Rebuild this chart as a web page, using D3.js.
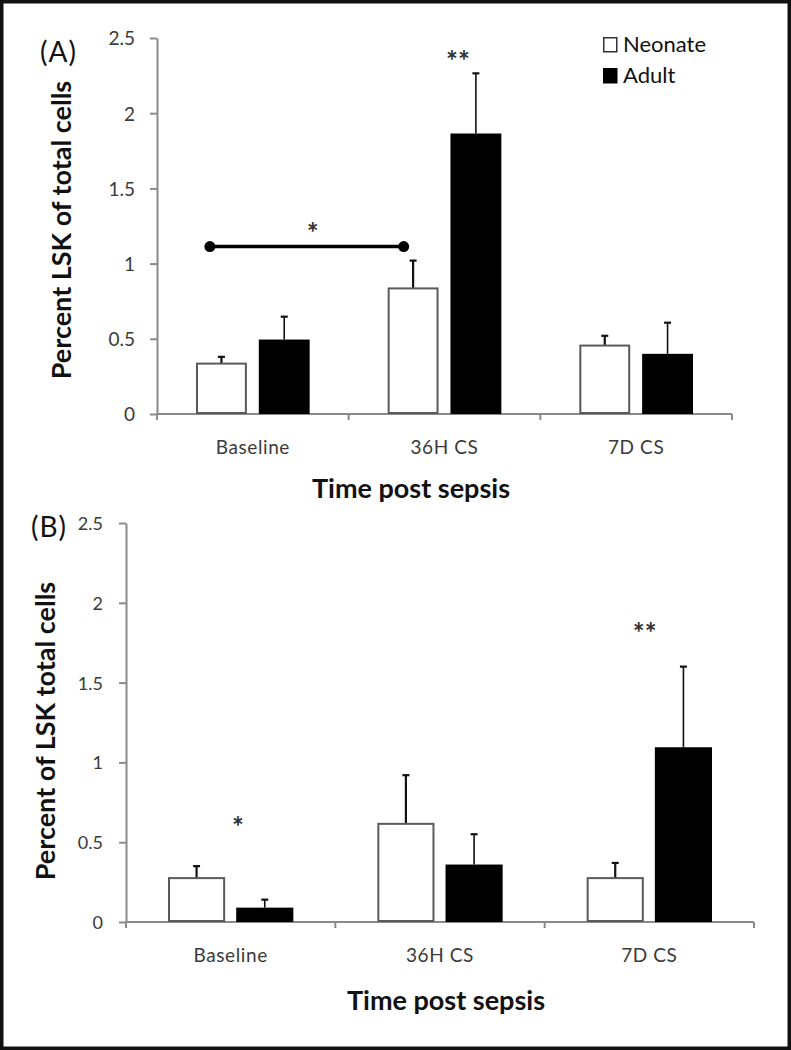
<!DOCTYPE html>
<html><head><meta charset="utf-8">
<script src="https://cdn.jsdelivr.net/npm/d3@7"></script>
<style>html,body{margin:0;padding:0;background:#fff}svg{display:block}</style>
</head><body>
<script>
// ---- data ----
const categories = ["Baseline", "36H CS", "7D CS"];
const seriesNames = ["Neonate", "Adult"];
const yTicks = [0, 0.5, 1, 1.5, 2, 2.5];
const yTickLabels = ["0", "0.5", "1", "1.5", "2", "2.5"];

const A_neonate = [0.335, 0.835, 0.455];
const A_neonateErr = [0.045, 0.185, 0.065];
const A_adult = [0.495, 1.865, 0.400];
const A_adultErr = [0.152, 0.400, 0.207];

const B_neonate = [0.275, 0.615, 0.275];
const B_neonateErr = [0.075, 0.305, 0.095];
const B_adult = [0.090, 0.360, 1.095];
const B_adultErr = [0.050, 0.190, 0.505];

const W = 791, H = 1050;
const FONT = "Lato, 'Open Sans', sans-serif";
const svg = d3.select("body").append("svg").attr("width", W).attr("height", H);
svg.append("rect").attr("width", W).attr("height", H).attr("fill", "#fff");
svg.append("rect").attr("x", 1.75).attr("y", 1.75).attr("width", W - 3.5).attr("height", H - 3.5)
  .attr("fill", "none").attr("stroke", "#111").attr("stroke-width", 3.5);

function star(g, x, y, t) {
  g.append("text").attr("x", x).attr("y", y + 15)
    .attr("text-anchor", "middle").attr("fill", "#333")
    .style("font-family", FONT).style("font-weight", "bold").style("font-size", "28px")
    .text(t);
}

function panel(cfg) {
  const g = svg.append("g");
  const x = d3.scaleBand().domain(categories).range(cfg.xRange);
  const y = d3.scaleLinear().domain([0, 2.5]).range(cfg.yRange);
  const bw = x.bandwidth();
  const x1 = d3.scaleBand().domain(seriesNames)
    .range([cfg.groupOffset, bw - cfg.groupOffset]).paddingInner(cfg.innerPad);

  // y axis
  const yAxis = d3.axisLeft(y).tickValues(yTicks).tickFormat((d, i) => yTickLabels[i])
    .tickSizeInner(7).tickSizeOuter(0).tickPadding(cfg.tickPad);
  const ya = g.append("g").attr("transform", `translate(${cfg.xRange[0]},0)`).call(yAxis);
  ya.select(".domain").attr("stroke", "#8a8a8a").attr("stroke-width", 2);
  ya.selectAll(".tick line").attr("stroke", "#8a8a8a").attr("stroke-width", 2);
  ya.selectAll(".tick text").attr("fill", "#3a3a3a").style("font-family", FONT)
    .style("font-size", cfg.tickFont + "px").attr("dy", "0.36em");

  // x axis baseline and boundary ticks
  const xa = g.append("g");
  xa.append("line").attr("x1", cfg.xRange[0]).attr("x2", cfg.xRange[1])
    .attr("y1", y(0)).attr("y2", y(0)).attr("stroke", "#8a8a8a").attr("stroke-width", 2);
  const bounds = categories.map(c => x(c)).concat([cfg.xRange[1]]);
  xa.selectAll("line.bt").data(bounds).join("line").attr("class", "bt")
    .attr("x1", d => d).attr("x2", d => d).attr("y1", y(0)).attr("y2", y(0) + 6)
    .attr("stroke", "#8a8a8a").attr("stroke-width", 2);
  xa.selectAll("text.cl").data(categories).join("text").attr("class", "cl")
    .attr("x", d => x(d) + bw / 2).attr("y", y(0) + cfg.catDy)
    .attr("text-anchor", "middle").attr("fill", "#3a3a3a")
    .style("font-family", FONT).style("font-size", cfg.catFont + "px")
    .style("letter-spacing", "0.6px").text(d => d);

  // bars
  const rows = [];
  categories.forEach((c, i) => {
    rows.push({ c, s: "Neonate", v: cfg.neo[i], e: cfg.neoErr[i] });
    rows.push({ c, s: "Adult", v: cfg.adu[i], e: cfg.aduErr[i] });
  });
  const bars = g.append("g");
  bars.selectAll("line.err").data(rows).join("line").attr("class", "err")
    .attr("x1", d => x(d.c) + x1(d.s) + x1.bandwidth() / 2)
    .attr("x2", d => x(d.c) + x1(d.s) + x1.bandwidth() / 2)
    .attr("y1", d => y(d.v)).attr("y2", d => y(d.v + d.e))
    .attr("stroke", "#111").attr("stroke-width", d => d.s === "Neonate" ? 2.2 : 1.6);
  bars.selectAll("line.cap").data(rows).join("line").attr("class", "cap")
    .attr("x1", d => x(d.c) + x1(d.s) + x1.bandwidth() / 2 - 3.5)
    .attr("x2", d => x(d.c) + x1(d.s) + x1.bandwidth() / 2 + 3.5)
    .attr("y1", d => y(d.v + d.e)).attr("y2", d => y(d.v + d.e))
    .attr("stroke", "#111").attr("stroke-width", 2.2);
  bars.selectAll("rect").data(rows).join("rect")
    .attr("x", d => x(d.c) + x1(d.s) + (d.s === "Neonate" ? 1 : 0))
    .attr("width", d => x1.bandwidth() - (d.s === "Neonate" ? 2 : 0))
    .attr("y", d => y(d.v))
    .attr("height", d => y(0) - y(d.v) - (d.s === "Neonate" ? 1 : 0))
    .attr("fill", d => d.s === "Neonate" ? "#fff" : "#000")
    .attr("stroke", d => d.s === "Neonate" ? "#5a5a5a" : "none")
    .attr("stroke-width", 2);

  cfg.stars.forEach(st => star(g, x(st.c) + bw * st.f, y(st.v), st.t));

  // axis titles
  g.append("text").attr("x", cfg.xTitle[0]).attr("y", cfg.xTitle[1]).attr("text-anchor", "middle")
    .attr("fill", "#111").style("font-family", FONT).style("font-weight", "bold")
    .style("font-size", cfg.titleFont + "px").text("Time post sepsis");
  g.append("text").attr("transform", `translate(${cfg.yTitle[0]},${cfg.yTitle[1]}) rotate(-90)`)
    .attr("text-anchor", "middle").attr("fill", "#111").style("font-family", FONT)
    .style("font-weight", "bold").style("font-size", cfg.titleFont + "px").text(cfg.yTitleText);
  g.append("text").attr("x", cfg.label[0]).attr("y", cfg.label[1]).attr("fill", "#111")
    .style("font-family", FONT).style("font-size", "28px").style("letter-spacing", "1px")
    .text(cfg.labelText);
  return { x, y, bw, g };
}

const pA = panel({
  xRange: [157, 732], yRange: [414, 38], groupOffset: 39, innerPad: 0.19,
  neo: A_neonate, neoErr: A_neonateErr, adu: A_adult, aduErr: A_adultErr,
  tickFont: 19, tickPad: 15, catFont: 19, catDy: 40, titleFont: 27,
  xTitle: [411, 498], yTitle: [71, 230], yTitleText: "Percent LSK of total cells",
  label: [40, 62], labelText: "(A)",
  stars: [{ c: "36H CS", f: 0.57, v: 2.38, t: "**" }]
});
// bracket in panel A
{
  const { x, y, bw, g } = pA;
  const bx = [x("Baseline") + bw * 0.276, x("36H CS") + bw * 0.287];
  const by = y(1.113);
  g.append("line").attr("x1", bx[0]).attr("x2", bx[1]).attr("y1", by).attr("y2", by)
    .attr("stroke", "#000").attr("stroke-width", 3.5);
  g.selectAll("circle.bd").data(bx).join("circle").attr("class", "bd")
    .attr("cx", d => d).attr("cy", by).attr("r", 5.5).attr("fill", "#000");
  star(g, (bx[0] + bx[1]) / 2 + 6, y(1.24), "*");
}

panel({
  xRange: [126, 754], yRange: [922, 523], groupOffset: 42, innerPad: 0.162,
  neo: B_neonate, neoErr: B_neonateErr, adu: B_adult, aduErr: B_adultErr,
  tickFont: 18, tickPad: 16, catFont: 19, catDy: 40, titleFont: 27,
  xTitle: [446, 1010], yTitle: [55, 731], yTitleText: "Percent of LSK total cells",
  label: [31, 537], labelText: "(B)",
  stars: [{ c: "Baseline", f: 0.535, v: 0.627, t: "*" }, { c: "7D CS", f: 0.478, v: 1.84, t: "**" }]
});

// legend
const legend = svg.append("g").attr("transform", "translate(603,37)");
seriesNames.forEach((s, i) => {
  legend.append("rect").attr("x", 0.75).attr("y", i * 31 + 0.75).attr("width", 13).attr("height", 14)
    .attr("fill", s === "Neonate" ? "#fff" : "#000").attr("stroke", s === "Neonate" ? "#333" : "#000")
    .attr("stroke-width", 1.5);
  legend.append("text").attr("x", 20).attr("y", i * 31 + 15).attr("fill", "#111")
    .style("font-family", FONT).style("font-size", "22px").text(s);
});
</script>
</body></html>
